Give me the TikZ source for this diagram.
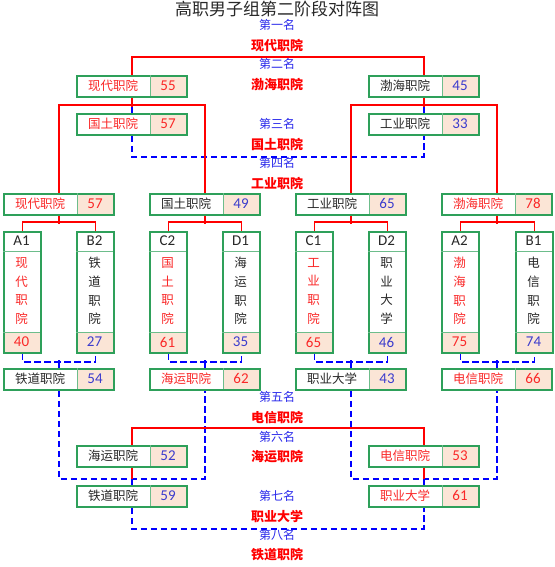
\documentclass[tikz,border=0pt]{standalone}
\usepackage{fontspec}
\setmainfont{Carlito}
\newfontfamily\cjk{Noto Sans CJK SC}
\usetikzlibrary{calc}
\pgfdeclarelayer{bg}
\pgfsetlayers{bg,main}
\definecolor{boxgreen}{RGB}{46,160,90}
\definecolor{scorebg}{RGB}{251,229,214}
\definecolor{lblue}{RGB}{40,40,235}
\definecolor{sblue}{RGB}{60,60,205}
\definecolor{tred}{RGB}{250,40,40}
\definecolor{dgray}{RGB}{40,40,40}
\tikzset{
  teambox/.style={draw=boxgreen, line width=1.8pt, minimum width=110pt, minimum height=21pt, inner sep=0pt, anchor=north west},
  colbox/.style={draw=boxgreen, line width=1.8pt, minimum width=37pt, minimum height=121pt, inner sep=0pt, anchor=north west},
  divline/.style={draw=boxgreen!70, line width=0.9pt},
  nametext/.style={font=\cjk\fontsize{12.5}{13}\selectfont, inner sep=0pt},
  coltext/.style={font=\cjk\fontsize{12.5}{18.7}\selectfont, inner sep=0pt, align=center},
  scoretext/.style={font=\fontsize{15}{15}\selectfont, inner sep=0pt},
  redline/.style={draw=red, line width=1.8pt},
  bluedash/.style={draw=blue, line width=1.8pt, dash pattern=on 6.5pt off 3.5pt},
  blueline/.style={draw=blue, line width=1.8pt},
  ranklbl/.style={font=\cjk\fontsize{12}{12}\selectfont, text=lblue},
  winlbl/.style={font=\cjk\bfseries\fontsize{13}{13}\selectfont, text=red},
}
% id, x, y, name, namecolor, score, scorecolor
\newcommand\tbox[7]{%
  \fill[white] (#2,#3) rectangle ({#2+110},{#3+21});
  \fill[scorebg] ({#2+74},#3) rectangle ({#2+110},{#3+21});
  \node[teambox] (#1) at (#2,#3) {};
  \draw[divline] ({#2+74},#3) -- ({#2+74},{#3+21});
  \node[nametext, text=#5] (#1-n) at ({#2+37},{#3+10.5}) {#4};
  \node[scoretext, text=#7] (#1-s) at ({#2+92},{#3+10.5}) {#6};
}
% id, x, header, chars, namecolor, score, scorecolor
\newcommand\cbox[7]{%
  \fill[white] (#2,231) rectangle ({#2+37},352);
  \fill[scorebg] (#2,332) rectangle ({#2+37},352);
  \node[colbox] (#1) at (#2,231) {};
  \draw[divline] (#2,251) -- ({#2+37},251) (#2,332) -- ({#2+37},332);
  \node[scoretext, text=dgray] (#1-h) at ({#2+18.5},241) {#3};
  \node[coltext, text=#5] (#1-n) at ({#2+18.5},291) {#4};
  \node[scoretext, text=#7] (#1-s) at ({#2+18.5},342) {#6};
}
\begin{document}
\begin{tikzpicture}[x=1pt,y=-1pt]
\begin{pgfonlayer}{bg}
\fill[white] (0,0) rectangle (554,567);
\end{pgfonlayer}
\useasboundingbox (0,0) rectangle (554,567);

% title and rank labels
\node[font=\cjk\fontsize{17}{17}\selectfont, text=dgray] (title) at (277,9) {高职男子组第二阶段对阵图};
\node[ranklbl] (k1) at (277,25) {第一名};
\node[winlbl]  (w1) at (277,45) {现代职院};
\node[ranklbl] (k2) at (277,64) {第二名};
\node[winlbl]  (w2) at (277,85) {渤海职院};
\node[ranklbl] (k3) at (277,124) {第三名};
\node[winlbl]  (w3) at (277,144) {国土职院};
\node[ranklbl] (k4) at (277,163) {第四名};
\node[winlbl]  (w4) at (277,183) {工业职院};
\node[ranklbl] (k5) at (277,397) {第五名};
\node[winlbl]  (w5) at (277,417) {电信职院};
\node[ranklbl] (k6) at (277,437) {第六名};
\node[winlbl]  (w6) at (277,457) {海运职院};
\node[ranklbl] (k7) at (277,496) {第七名};
\node[winlbl]  (w7) at (277,516) {职业大学};
\node[ranklbl] (k8) at (277,535) {第八名};
\node[winlbl]  (w8) at (277,555) {铁道职院};

% final boxes
\tbox{b55}{76}{75}{现代职院}{tred}{55}{tred}
\tbox{b45}{368}{75}{渤海职院}{dgray}{45}{sblue}
\tbox{b57}{76}{113}{国土职院}{tred}{57}{tred}
\tbox{b33}{368}{113}{工业职院}{dgray}{33}{sblue}

% row 3
\tbox{r1}{3}{193}{现代职院}{tred}{57}{tred}
\tbox{r2}{149}{193}{国土职院}{dgray}{49}{sblue}
\tbox{r3}{295}{193}{工业职院}{dgray}{65}{sblue}
\tbox{r4}{441}{193}{渤海职院}{tred}{78}{tred}

% group columns
\cbox{c1}{3}{A1}{现\\代\\职\\院}{tred}{40}{tred}
\cbox{c2}{76}{B2}{铁\\道\\职\\院}{dgray}{27}{sblue}
\cbox{c3}{149}{C2}{国\\土\\职\\院}{tred}{61}{tred}
\cbox{c4}{222}{D1}{海\\运\\职\\院}{dgray}{35}{sblue}
\cbox{c5}{295}{C1}{工\\业\\职\\院}{tred}{65}{tred}
\cbox{c6}{368}{D2}{职\\业\\大\\学}{dgray}{46}{sblue}
\cbox{c7}{441}{A2}{渤\\海\\职\\院}{tred}{75}{tred}
\cbox{c8}{515}{B1}{电\\信\\职\\院}{dgray}{74}{sblue}

% row 4
\tbox{s1}{3}{368}{铁道职院}{dgray}{54}{sblue}
\tbox{s2}{149}{368}{海运职院}{tred}{62}{tred}
\tbox{s3}{295}{368}{职业大学}{dgray}{43}{sblue}
\tbox{s4}{441}{368}{电信职院}{tred}{66}{tred}

% placement boxes
\tbox{p52}{76}{445}{海运职院}{dgray}{52}{sblue}
\tbox{p53}{368}{445}{电信职院}{tred}{53}{tred}
\tbox{p59}{76}{485}{铁道职院}{dgray}{59}{sblue}
\tbox{p61}{368}{485}{职业大学}{tred}{61}{tred}

\begin{pgfonlayer}{bg}
% final
\draw[redline] (b55.north) -- ++(0,-18) -| (b45.north);
\draw[redline] (b55.south) -- ++(0,9);
\draw[redline] (b45.south) -- ++(0,9);
\draw[bluedash] ($(b55.south)+(0,9)$) -- (b57.north);
\draw[bluedash] ($(b45.south)+(0,9)$) -- (b33.north);
\draw[bluedash] (b57.south) -- ++(0,21) -| (b33.south);
% semis
\draw[redline] (r1.north) -- ++(0,-88) -| (r2.north);
\draw[redline] (r3.north) -- ++(0,-88) -| (r4.north);
% groups
\draw[redline] (r1.south) -- ++(0,8);
\draw[redline] (r2.south) -- ++(0,8);
\draw[redline] (r3.south) -- ++(0,8);
\draw[redline] (r4.south) -- ++(0,8);
\draw[redline] (c1.north) -- ++(0,-9) -| (c2.north);
\draw[redline] (c3.north) -- ++(0,-9) -| (c4.north);
\draw[redline] (c5.north) -- ++(0,-9) -| (c6.north);
\draw[redline] (c7.north) -- ++(0,-9) -| (c8.north);
\draw[bluedash] (c1.south) -- ++(0,8) -| (c2.south);
\draw[bluedash] (c3.south) -- ++(0,8) -| (c4.south);
\draw[bluedash] (c5.south) -- ++(0,8) -| (c6.south);
\draw[bluedash] (c7.south) -- ++(0,8) -| (c8.south);
\draw[blueline] (s1.north) -- ++(0,-8);
\draw[blueline] (s2.north) -- ++(0,-8);
\draw[blueline] (s3.north) -- ++(0,-8);
\draw[blueline] (s4.north) -- ++(0,-8);
% lower bracket
\draw[bluedash] (s1.south) -- ++(0,88) -| (s2.south);
\draw[bluedash] (s3.south) -- ++(0,88) -| (s4.south);
\draw[redline] (p52.north) -- ++(0,-17) -| (p53.north);
\draw[redline] (p52.south) -- ++(0,11);
\draw[redline] (p53.south) -- ++(0,11);
\draw[blueline] ($(p52.south)+(0,11)$) -- (p59.north);
\draw[blueline] ($(p53.south)+(0,11)$) -- (p61.north);
\draw[bluedash] (p59.south) -- ++(0,21) -| (p61.south);
\end{pgfonlayer}
\end{tikzpicture}
\end{document}
